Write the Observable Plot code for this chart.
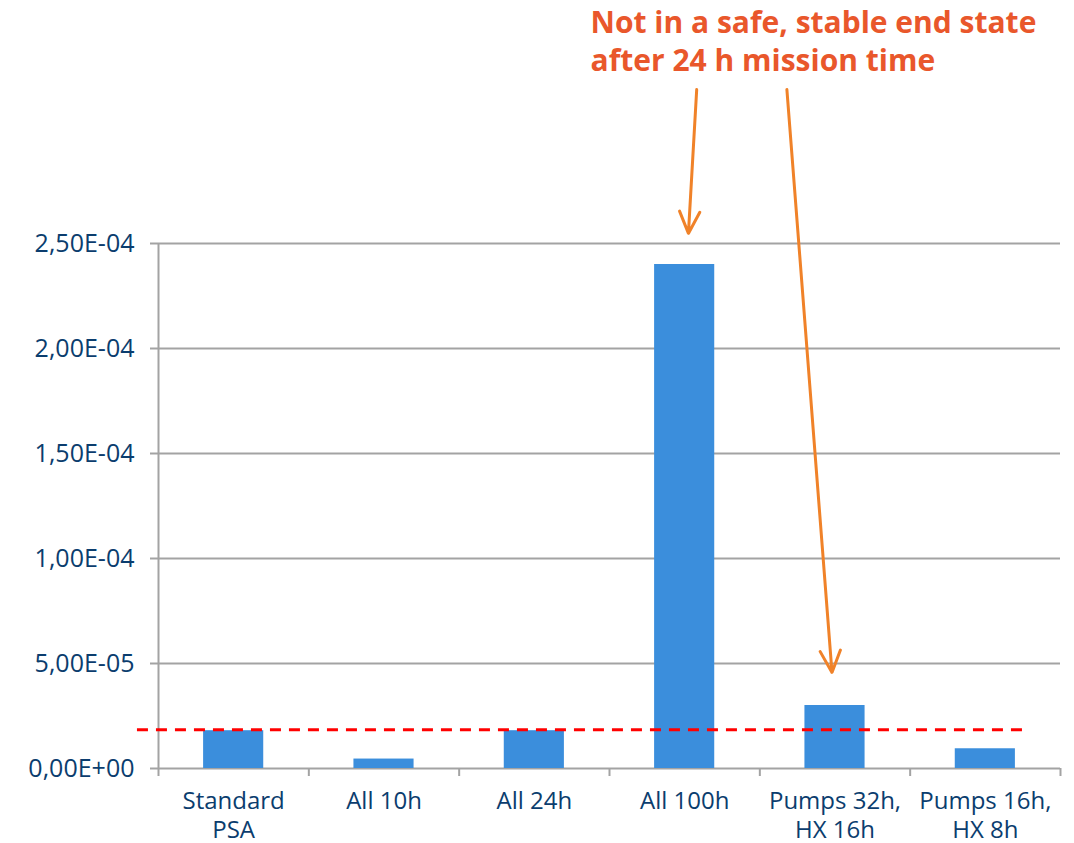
<!DOCTYPE html>
<html>
<head>
<meta charset="utf-8">
<script src="https://cdn.jsdelivr.net/npm/d3@7"></script>
<script src="https://cdn.jsdelivr.net/npm/@observablehq/plot@0.6"></script>
<style>
  html, body { margin: 0; padding: 0; background: #fff; overflow: hidden; }
</style>
</head>
<body>
<div id="chart"></div>
<script>
// ---- data ----
const categories = ["Standard\nPSA", "All 10h", "All 24h", "All 100h", "Pumps 32h,\nHX 16h", "Pumps 16h,\nHX 8h"];
const values = [1.8e-5, 4.5e-6, 1.8e-5, 2.4e-4, 3.0e-5, 9.4e-6];
const thresholdValue = 1.84e-5;
const thresholdExtent = [-0.14, 5.75];       // x extent of dashed line, in category-index units
const yTicks = [0, 5e-5, 1e-4, 1.5e-4, 2e-4, 2.5e-4];
const yTickLabels = ["0,00E+00", "5,00E-05", "1,00E-04", "1,50E-04", "2,00E-04", "2,50E-04"];
const annotationText = "Not in a safe, stable end state\nafter 24 h mission time";
const annotationAt = [2.874, 3.632e-4];        // [category index, value]
const arrowsFrom = [[3.58, 3.233e-4], [4.18, 3.233e-4]];
const arrowsTo = [[3.525, 2.548e-4], [4.48, 4.57e-5]];

// ---- styles ----
const blue = "#0B3D6E";
const grid = "#A3A3A3";
const barColor = "#3B8EDC";
const orangeText = "#E9572B";
const orangeArrow = "#F08229";

const data = categories.map((c, i) => ({i, category: c, value: values[i]}));
const arrows = arrowsFrom.map((f, k) => ({x1: f[0], y1: f[1], x2: arrowsTo[k][0], y2: arrowsTo[k][1]}));
const centers = categories.map((_, i) => i + 0.5);
const bounds = d3.range(categories.length + 1);

const chart = Plot.plot({
  width: 1074,
  height: 843,
  marginLeft: 158,
  marginRight: 14,
  marginTop: 243,
  marginBottom: 75,
  style: {fontFamily: "'Open Sans', sans-serif", background: "#fff", overflow: "visible"},
  x: {domain: [0, categories.length], axis: null},
  y: {domain: [0, 2.5e-4], axis: null},
  marks: [
    Plot.gridY(yTicks, {stroke: grid, strokeOpacity: 1, strokeWidth: 2}),
    Plot.axisY(yTicks, {
      tickSize: 8, tickPadding: 16, stroke: grid, strokeWidth: 2,
      tickFormat: d => yTickLabels[yTicks.indexOf(d)],
      fontSize: 25, fill: blue
    }),
    Plot.ruleX([0], {y1: 0, y2: 2.5e-4, stroke: grid, strokeWidth: 2}),
    Plot.axisX(bounds, {tickSize: 8, stroke: grid, strokeWidth: 2, tickFormat: () => ""}),
    Plot.axisX(centers, {
      tickSize: 0, tickPadding: 20,
      tickFormat: d => categories[Math.floor(d)],
      fontSize: 24, fill: blue, lineHeight: 1.21
    }),
    Plot.rectY(data, {x1: d => d.i + 0.3, x2: d => d.i + 0.7, y: "value", fill: barColor}),
    Plot.ruleY([thresholdValue], {
      x1: thresholdExtent[0], x2: thresholdExtent[1],
      stroke: "#FF0000", strokeWidth: 3, strokeDasharray: "11,8"
    }),
    Plot.arrow(arrows, {
      x1: "x1", y1: "y1", x2: "x2", y2: "y2",
      stroke: orangeArrow, strokeWidth: 3, headLength: 12, headAngle: 50
    }),
    Plot.text([annotationText], {
      x: () => annotationAt[0], y: () => annotationAt[1], text: d => d,
      textAnchor: "start", lineAnchor: "top", lineHeight: 1.27,
      fontSize: 30, fontWeight: "bold", fill: orangeText
    })
  ]
});
document.getElementById("chart").appendChild(chart);
</script>
</body>
</html>
